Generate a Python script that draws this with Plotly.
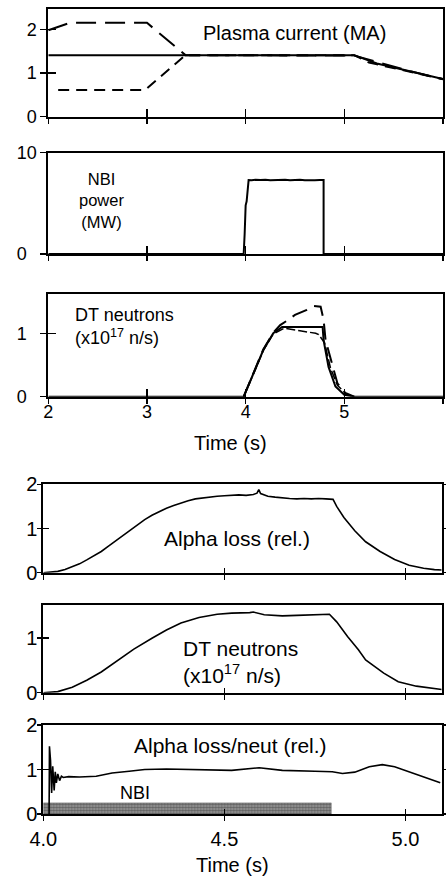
import plotly.graph_objects as go

# ---------------- data ----------------
# Panel 1: plasma current (MA)
ip_solid_t = [2.0, 5.1, 5.33, 5.67, 6.0]
ip_solid_v = [1.41, 1.41, 1.22, 1.03, 0.86]
ip_long_t = [2.0, 2.22, 3.0, 3.39, 5.1, 5.3, 5.67, 6.0]
ip_long_v = [1.98, 2.15, 2.15, 1.41, 1.40, 1.27, 1.04, 0.86]
ip_short_t = [2.1, 2.98, 3.39, 5.1, 5.25, 5.67, 6.0]
ip_short_v = [0.61, 0.61, 1.41, 1.41, 1.24, 1.02, 0.86]

# Panel 2: NBI power (MW)
nbi_t = [2.0, 3.98, 3.99, 4.0, 4.01, 4.03, 4.06, 4.1, 4.15, 4.2, 4.25, 4.3, 4.35,
         4.4, 4.45, 4.5, 4.55, 4.6, 4.65, 4.7, 4.75, 4.79, 4.79, 6.0]
nbi_v = [0.0, 0.0, 2.0, 4.8, 5.2, 7.3, 7.27, 7.32, 7.3, 7.34, 7.28, 7.32, 7.3,
         7.33, 7.28, 7.31, 7.34, 7.29, 7.32, 7.28, 7.3, 7.3, 0.0, 0.0]

# Panel 3: DT neutrons (x1e17 n/s), three traces
dt_t = [2.0, 3.98, 4.08, 4.18, 4.28, 4.37, 4.5, 4.65, 4.78, 4.79, 4.84, 4.91, 5.0, 5.1, 6.0]
dt_solid = [0.0, 0.0, 0.37, 0.74, 1.0, 1.1, 1.1, 1.1, 1.1, 0.89, 0.47, 0.16, 0.03, 0.0, 0.0]
dt_long_t = [3.98, 4.08, 4.18, 4.28, 4.35, 4.42, 4.5, 4.62, 4.69, 4.76, 4.79, 4.81, 4.88, 4.93, 5.01, 5.1]
dt_long_v = [0.0, 0.37, 0.75, 1.01, 1.13, 1.2, 1.29, 1.37, 1.43, 1.42, 1.21, 0.89, 0.47, 0.21, 0.06, 0.0]
dt_short_t = [3.98, 4.08, 4.18, 4.28, 4.39, 4.55, 4.71, 4.74, 4.8, 4.86, 4.93, 5.02, 5.1]
dt_short_v = [0.0, 0.36, 0.73, 0.99, 1.08, 1.04, 1.0, 0.98, 0.85, 0.45, 0.18, 0.04, 0.0]

# Panel 4: alpha loss (rel.)
al_t = [4.0, 4.02, 4.04, 4.06, 4.08, 4.10, 4.12, 4.14, 4.16, 4.18, 4.20, 4.22, 4.24,
        4.26, 4.28, 4.30, 4.32, 4.34, 4.36, 4.38, 4.40, 4.42, 4.44, 4.46, 4.48, 4.50,
        4.52, 4.54, 4.56, 4.58, 4.59, 4.595, 4.60, 4.61, 4.62, 4.64, 4.66, 4.68, 4.70,
        4.72, 4.74, 4.76, 4.78, 4.80, 4.81, 4.83, 4.86, 4.89, 4.93, 4.97, 5.01, 5.05, 5.08, 5.10]
al_v = [0.0, 0.01, 0.03, 0.07, 0.13, 0.2, 0.29, 0.38, 0.48, 0.6, 0.72, 0.86, 0.98,
        1.1, 1.2, 1.3, 1.38, 1.46, 1.52, 1.58, 1.63, 1.67, 1.69, 1.72, 1.73, 1.74,
        1.75, 1.76, 1.75, 1.77, 1.8, 1.88, 1.79, 1.76, 1.73, 1.71, 1.69, 1.68, 1.67,
        1.68, 1.67, 1.68, 1.67, 1.66, 1.5, 1.25, 0.95, 0.7, 0.48, 0.3, 0.17, 0.1, 0.07, 0.06]

# Panel 5: DT neutrons (x1e17 n/s), zoomed
dn_t = [4.0, 4.04, 4.08, 4.12, 4.16, 4.20, 4.25, 4.30, 4.34, 4.38, 4.43, 4.48, 4.52,
        4.57, 4.58, 4.61, 4.66, 4.70, 4.75, 4.79, 4.81, 4.84, 4.87, 4.89, 4.94, 4.98, 5.03, 5.10]
dn_v = [0.0, 0.02, 0.1, 0.23, 0.38, 0.56, 0.8, 1.0, 1.15, 1.28, 1.38, 1.44, 1.46,
        1.47, 1.48, 1.43, 1.41, 1.42, 1.43, 1.44, 1.3, 1.03, 0.79, 0.6, 0.36, 0.2, 0.12, 0.06]

# Panel 6: alpha loss / neutrons (rel.)
ar_t = [4.016, 4.017, 4.020, 4.023, 4.026, 4.028, 4.030, 4.033, 4.036, 4.040, 4.045,
        4.050, 4.055, 4.07, 4.10, 4.146, 4.19, 4.237, 4.28, 4.34, 4.43, 4.52, 4.596,
        4.66, 4.75, 4.798, 4.826, 4.86, 4.90, 4.936, 4.97, 5.018, 5.064, 5.096]
ar_v = [0.0, 1.52, 1.2, 0.47, 1.07, 0.6, 0.53, 0.95, 0.7, 0.9, 0.75, 0.85, 0.82,
        0.84, 0.83, 0.85, 0.92, 0.96, 1.0, 1.01, 1.0, 0.98, 1.04,
        0.98, 0.96, 0.95, 0.91, 0.94, 1.06, 1.11, 1.06, 0.92, 0.79, 0.70]

nbi_on = [4.0, 4.795]
nbi_bar_height = 0.25

top_xticks = [2, 3, 4, 5, 6]
top_xlabels = ["2", "3", "4", "5", " "]
bot_xticks = [4.0, 4.5, 5.0]
bot_xlabels = ["4.0", "4.5", "5.0"]

NB = "\u00a0"
p1_yticks, p1_ylabels = [0, 1, 2], ["0", "1", "2"]
p2_yticks, p2_ylabels = [0, 10], ["0" + NB * 2, "10"]
p3_yticks, p3_ylabels = [0, 1], ["0" + NB * 2, "1" + NB * 2]
p4_yticks, p4_ylabels = [0, 1, 2], ["0", "1", "2"]
p5_yticks, p5_ylabels = [0, 1], ["0", "1"]
p6_yticks, p6_ylabels = [0, 1, 2], ["0", "1", "2"]

# ---------------- layout geometry ----------------
W, H = 446, 882
def ydom(top_px, bot_px):
    return [1 - bot_px / H, 1 - top_px / H]

top_xdom = [48.3 / W, 443 / W]
bot_xdom = [43.3 / W, 441.7 / W]

panels = [
    dict(xd=top_xdom, yd=ydom(9.3, 116.7), xr=[2, 6], yr=[0, 2.46], xt=top_xticks, xl=top_xlabels,
         sx=False, yt=p1_yticks, yl=p1_ylabels, fs=18, yso=0, xso=0),
    dict(xd=top_xdom, yd=ydom(152.7, 254), xr=[2, 6], yr=[0, 10], xt=top_xticks, xl=top_xlabels,
         sx=False, yt=p2_yticks, yl=p2_ylabels, fs=18, yso=0, xso=0),
    dict(xd=top_xdom, yd=ydom(294.3, 396.7), xr=[2, 6], yr=[0, 1.615], xt=top_xticks, xl=top_xlabels,
         sx=True, yt=p3_yticks, yl=p3_ylabels, fs=18, yso=0, xso=-7),
    dict(xd=bot_xdom, yd=ydom(484.3, 572.7), xr=[4.0, 5.1], yr=[0, 2.0], xt=bot_xticks, xl=bot_xlabels,
         sx=False, yt=p4_yticks, yl=p4_ylabels, fs=20, yso=-4, xso=0),
    dict(xd=bot_xdom, yd=ydom(605, 692.7), xr=[4.0, 5.1], yr=[0, 1.61], xt=bot_xticks, xl=bot_xlabels,
         sx=False, yt=p5_yticks, yl=p5_ylabels, fs=20, yso=-4, xso=0),
    dict(xd=bot_xdom, yd=ydom(725, 814), xr=[4.0, 5.1], yr=[0, 2.0], xt=bot_xticks, xl=bot_xlabels,
         sx=True, yt=p6_yticks, yl=p6_ylabels, fs=20, yso=-4, xso=1),
]

FONT = "Liberation Sans, Arial, Helvetica, sans-serif"
layout = dict(width=W, height=H, margin=dict(l=0, r=0, t=0, b=0, pad=0, autoexpand=False),
              autosize=False, paper_bgcolor="white", plot_bgcolor="rgba(0,0,0,0)", showlegend=False,
              font=dict(family=FONT, color="black"))

fig = go.Figure()
N = len(panels)
for i, p in enumerate(panels, start=1):
    sfx = "" if i == 1 else str(i)
    o = i + N
    top = i <= 3
    layout["xaxis" + sfx] = dict(domain=p["xd"], range=p["xr"], anchor="y" + sfx, automargin=False,
                                 tickmode="array", tickvals=p["xt"], ticktext=p["xl"],
                                 showticklabels=p["sx"], ticks="outside", ticklen=5, tickwidth=1.5,
                                 ticklabelstandoff=p["xso"],
                                 tickcolor="black", showline=True, linewidth=2, linecolor="black",
                                 mirror=True, showgrid=False, zeroline=False,
                                 tickfont=dict(size=p["fs"], family=FONT), fixedrange=True)
    layout["yaxis" + sfx] = dict(domain=p["yd"], range=p["yr"], anchor="x" + sfx, automargin=False,
                                 tickmode="array", tickvals=p["yt"], ticktext=p["yl"], ticks="outside",
                                 ticklen=(6 if top else 4), ticklabelstandoff=p["yso"],
                                 tickwidth=1.5, tickcolor="black", showline=True, linewidth=2,
                                 linecolor="black", mirror=("ticks" if i in (4, 6) else True),
                                 showgrid=False, zeroline=False,
                                 tickfont=dict(size=p["fs"], family=FONT), fixedrange=True)
    # overlay axes to give ticks that cross the axis line
    layout["xaxis%d" % o] = dict(overlaying="x" + sfx, range=p["xr"], anchor="y" + sfx, automargin=False,
                                 tickmode="array", tickvals=p["xt"], showticklabels=False,
                                 ticks="inside", ticklen=(8 if top else 5), tickwidth=1.5, tickcolor="black",
                                 showline=False, showgrid=False, zeroline=False, fixedrange=True)
    layout["yaxis%d" % o] = dict(overlaying="y" + sfx, range=p["yr"], anchor="x" + sfx, automargin=False,
                                 tickmode="array", tickvals=p["yt"], showticklabels=False,
                                 ticks="inside", ticklen=(8 if top else 6), tickwidth=1.5, tickcolor="black",
                                 showline=False, showgrid=False, zeroline=False, fixedrange=True)
    fig.add_trace(go.Scatter(x=[], y=[], xaxis="x%d" % o, yaxis="y%d" % o, hoverinfo="skip"))

def line(x, y, ax, width=2, dash="solid"):
    sfx = "" if ax == 1 else str(ax)
    fig.add_trace(go.Scatter(x=x, y=y, mode="lines", xaxis="x" + sfx, yaxis="y" + sfx,
                             line=dict(color="black", width=width, dash=dash), hoverinfo="skip"))

# Panel 1
line(ip_solid_t, ip_solid_v, 1, 2)
line(ip_long_t, ip_long_v, 1, 2, "20px,9px")
line(ip_short_t, ip_short_v, 1, 2, "11px,7px")
# Panel 2
line(nbi_t, nbi_v, 2, 2)
# Panel 3
line(dt_t, dt_solid, 3, 2)
line(dt_long_t, dt_long_v, 3, 2, "16px,8px")
line(dt_short_t, dt_short_v, 3, 1.5, "9px,3px")
# Panel 4-6
line(al_t, al_v, 4, 1.6)
line(dn_t, dn_v, 5, 1.6)
# NBI bar in panel 6
fig.add_trace(go.Scatter(x=[nbi_on[0], nbi_on[1], nbi_on[1], nbi_on[0], nbi_on[0]],
                         y=[0, 0, nbi_bar_height, nbi_bar_height, 0],
                         mode="lines", fill="toself", xaxis="x6", yaxis="y6",
                         line=dict(width=0.5, color="#555"), fillcolor="#888888",
                         fillpattern=dict(shape=".", fgcolor="#2a2a2a", bgcolor="#9a9a9a",
                                          size=3, solidity=0.55),
                         hoverinfo="skip"))
line(ar_t, ar_v, 6, 1.6)

ann = []
def text(t, x, y, ax, size, xanchor="center", align="center"):
    sfx = "" if ax == 1 else str(ax)
    ann.append(dict(text=t, x=x, y=y, xref="x" + sfx, yref="y" + sfx, showarrow=False,
                    font=dict(size=size, family=FONT, color="black"),
                    xanchor=xanchor, yanchor="middle", align=align))

text("Plasma current (MA)", 4.495, 1.915, 1, 20)
text("NBI<br>power<br>(MW)", 2.54, 5.33, 2, 16.5)
text("DT neutrons<br>(x10<sup>17</sup> n/s)", 2.25, 1.1, 3, 18, xanchor="left", align="left")
text("Alpha loss (rel.)", 4.534, 0.78, 4, 21)
text("DT neutrons<br>(x10<sup>17</sup> n/s)", 4.381, 0.57, 5, 21, xanchor="left", align="left")
text("Alpha loss/neut (rel.)", 4.516, 1.55, 6, 21)
text("NBI", 4.252, 0.47, 6, 18)
ann.append(dict(text="Time (s)", x=230 / W, y=1 - 443 / H, xref="paper", yref="paper",
                showarrow=False, font=dict(size=20, family=FONT, color="black"),
                xanchor="center", yanchor="middle"))
ann.append(dict(text="Time (s)", x=233 / W, y=1 - 865 / H, xref="paper", yref="paper",
                showarrow=False, font=dict(size=20, family=FONT, color="black"),
                xanchor="center", yanchor="middle"))
layout["annotations"] = ann

fig.update_layout(**layout)
fig.write_html("out.html", config=dict(displayModeBar=False, staticPlot=True))
